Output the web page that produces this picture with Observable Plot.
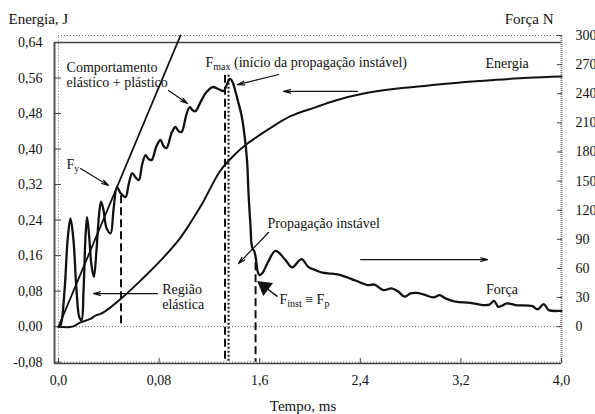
<!DOCTYPE html>
<html><head><meta charset="utf-8">
<script src="https://cdn.jsdelivr.net/npm/d3@7"></script>
<script src="https://cdn.jsdelivr.net/npm/@observablehq/plot@0.6"></script>
<style>body{margin:0;background:#fff}</style>
</head><body><div id="chart"></div>
<script>
// ---- data ----
const forceTime = [0,0.016,0.048,0.072,0.095,0.119,0.143,0.167,0.183,0.199,0.215,0.227,0.243,0.262,0.281,0.302,0.322,0.338,0.358,0.382,0.414,0.437,0.465,0.493,0.533,0.557,0.586,0.612,0.639,0.664,0.692,0.716,0.740,0.779,0.811,0.835,0.859,0.899,0.930,0.954,0.978,1.018,1.044,1.066,1.089,1.129,1.177,1.225,1.272,1.312,1.340,1.364,1.384,1.404,1.431,1.455,1.479,1.499,1.511,1.527,1.539,1.559,1.571,1.583,1.599,1.622,1.662,1.726,1.805,1.858,1.932,1.988,2.044,2.099,2.171,2.243,2.322,2.402,2.457,2.513,2.584,2.648,2.704,2.751,2.799,2.847,2.903,2.982,3.030,3.078,3.157,3.276,3.372,3.427,3.463,3.499,3.568,3.634,3.769,3.809,3.859,3.899,3.992,4.0];
const forceN = [0,1.5,37.6,89,111.5,89,37.6,8.8,6.7,37.6,94,112.9,94,63.4,51.3,78.9,115,128.7,120,101.5,96.1,120,143.8,137.6,133.5,146,158.2,154,151,166.5,176.8,172.7,171.6,186,192.3,186,184,199.5,205.7,201.5,200.5,219,226.3,223,222,231.4,241.8,246.9,244.8,242.8,250,255.2,252,243.8,230.4,218,197.4,171.6,137.6,102.6,82,76.8,68.6,57.2,53.1,55.2,65.5,78.1,68.6,61.0,69.6,61.3,58.2,55.7,54.6,53.1,49.5,45.4,42.8,43.3,37.6,39.4,35.9,30.9,34.2,34.8,33.2,30.1,32.5,29.1,25.8,24.5,22.2,22.7,26.5,20.4,23.9,22.2,21.1,17.7,23.2,17.0,16.3,16.3];
const energyTime = [0,0.111,0.175,0.254,0.294,0.334,0.414,0.507,0.652,0.811,0.970,1.129,1.288,1.392,1.487,1.662,1.845,2.043,2.203,2.417,2.680,2.942,3.213,3.475,3.738,4.0];
const energyJ = [0,0,0.0097,0.0174,0.025,0.0286,0.0435,0.0654,0.1037,0.1487,0.2006,0.2704,0.3516,0.385,0.409,0.443,0.474,0.494,0.5093,0.5244,0.5357,0.5431,0.5505,0.5559,0.5605,0.5634];
const elasticTime = [0, 0.97];
const elasticN = [0, 300];

const energyTicks = [-0.08,0,0.08,0.16,0.24,0.32,0.40,0.48,0.56,0.64];
const energyTickLabels = ["-0,08","0,00","0,08","0,16","0,24","0,32","0,40","0,48","0,56","0,64"];
const forceTicks = [0,30,60,90,120,150,180,210,240,270,300];
const timeTicks = [0,0.8,1.6,2.4,3.2,4.0];
const timeTickLabels = ["0,0","0,08","1,6","2,4","3,2","4,0"];

// vertical markers (energy units)
const dashTime = [0.497, 1.324, 1.567];
const dashTop = [0.295, 0.566, 0.144];
const dashBottom = [0, -0.08, -0.08];
const dotTime = [1.352];
const dotTop = [0.566];
const dotBottom = [-0.08];

// annotations
const noteText = ["Comportamento\nelástico + plástico","F_{y}","F_{max} (início da propagação instável)","Energia","Propagação instável","Região\nelástica","F_{inst} ≡ F_{p}","Força"];
const noteTime = [0.064,0.064,1.169,3.396,1.662,0.825,1.757,3.400];
const noteEnergy = [0.5668,0.367,0.595,0.593,0.234,0.0682,0.063,0.0834];

const arrowT1 = [0.875,0.175,1.750,2.378,1.670,0.787,2.402];
const arrowE1 = [0.532,0.356,0.568,0.530,0.212,0.0744,0.151];
const arrowT2 = [1.026,0.398,1.423,1.789,1.431,0.278,3.412];
const arrowE2 = [0.5025,0.318,0.545,0.530,0.142,0.0744,0.151];

const boldT1 = [1.742], boldE1 = [0.0676], boldT2 = [1.638], boldE2 = [0.090];

// ---- build ----
const k = 0.97/443.75; // J per N on the shared vertical scale
const xMin = -0.032, xMax = 4.0, yMin = -0.083, yMax = 0.64;
const fTop = forceTicks[forceTicks.length-1]*k;
const force = forceTime.map((t,i)=>({t, v: forceN[i]*k}));
const energy = energyTime.map((t,i)=>({t, v: energyJ[i]}));
const elastic = elasticTime.map((t,i)=>({t, v: elasticN[i]*k}));
const dashes = dashTime.map((t,i)=>({t, y1: dashTop[i], y2: dashBottom[i]}));
const dots = dotTime.map((t,i)=>({t, y1: dotTop[i], y2: dotBottom[i]}));
const notes = noteText.map((s,i)=>({s, t: noteTime[i], v: noteEnergy[i]}));
const arrows = arrowT1.map((t,i)=>({x1:t, y1:arrowE1[i], x2:arrowT2[i], y2:arrowE2[i]}));
const bold = boldT1.map((t,i)=>({x1:t, y1:boldE1[i], x2:boldT2[i], y2:boldE2[i]}));
const ink = "#111";
const serif = "Liberation Serif";

const chart = Plot.plot({
  width: 595, height: 414,
  marginLeft: 54, marginRight: 34, marginTop: 42, marginBottom: 51,
  x: {domain: [xMin, xMax], label: null},
  y: {domain: [yMin, yMax], label: null},
  style: {fontFamily: serif, fontSize: "14px", color: ink, background: "#fff"},
  marks: [
    Plot.ruleY([fTop, 0, -0.08], {x1: 0, x2: xMax, stroke: "#666", strokeWidth: 1, strokeDasharray: "1,2"}),
    Plot.ruleX([0], {y1: -0.08, y2: fTop, stroke: "#666", strokeWidth: 1, strokeDasharray: "1,2"}),
    Plot.ruleX([xMin], {y1: yMin, y2: yMax, stroke: "#555", strokeWidth: 2}),
    Plot.ruleY([yMax, yMin], {x1: xMin, x2: xMax, stroke: "#444", strokeWidth: 1.5}),
    Plot.ruleX([xMax], {y1: yMin, y2: fTop, stroke: "#777", strokeWidth: 2, strokeDasharray: "1,1"}),
    Plot.axisY(energyTicks, {anchor: "left", tickSize: -7, tickPadding: 19, label: null, stroke: "#444",
      tickFormat: d => energyTickLabels[energyTicks.indexOf(d)], fontSize: 14, fontFamily: serif}),
    Plot.axisY(forceTicks.map(f => f*k), {anchor: "right", tickSize: -5, tickPadding: 19, label: null, stroke: "#444",
      tickFormat: d => String(Math.round(d/k)), fontSize: 14, fontFamily: serif}),
    Plot.axisX(timeTicks, {anchor: "bottom", tickSize: -5, tickPadding: 17, label: null, stroke: "#444",
      tickFormat: d => timeTickLabels[timeTicks.indexOf(d)], fontSize: 14, fontFamily: serif}),
    Plot.ruleX(dashes, {x: "t", y1: "y1", y2: "y2", stroke: ink, strokeWidth: 2, strokeDasharray: "8,4"}),
    Plot.ruleX(dots, {x: "t", y1: "y1", y2: "y2", stroke: ink, strokeWidth: 2, strokeDasharray: "2,2"}),
    Plot.line(elastic, {x: "t", y: "v", stroke: ink, strokeWidth: 1.8}),
    Plot.line(energy, {x: "t", y: "v", stroke: ink, strokeWidth: 2, curve: "catmull-rom"}),
    Plot.line(force, {x: "t", y: "v", stroke: ink, strokeWidth: 2.3, curve: "catmull-rom"}),
    Plot.arrow(arrows, {x1: "x1", y1: "y1", x2: "x2", y2: "y2", bend: 0, stroke: ink, strokeWidth: 1.2, headLength: 9, headAngle: 30}),
    Plot.link(bold, {x1: "x1", y1: "y1", x2: "x2", y2: "y2", stroke: ink, strokeWidth: 1.4}),
    Plot.dot(bold, {x: "x2", y: "y2", symbol: "triangle", r: 5, fill: ink, stroke: ink, rotate: -53}),
    Plot.text(notes, {x: "t", y: "v", text: "s", textAnchor: "start", lineAnchor: "middle", lineHeight: 1.08, fontSize: 14, fontFamily: serif, fill: ink}),
    Plot.text(["Energia, J"], {frameAnchor: "top-left", dx: -46, dy: -23, textAnchor: "start", lineAnchor: "middle", fontSize: 15, fontFamily: serif, fill: ink}),
    Plot.text(["Força N"], {frameAnchor: "top-right", dx: -8, dy: -23, textAnchor: "end", lineAnchor: "middle", fontSize: 15, fontFamily: serif, fill: ink}),
    Plot.text(["Tempo, ms"], {frameAnchor: "bottom", dx: -5, dy: 43, textAnchor: "middle", lineAnchor: "middle", fontSize: 15, fontFamily: serif, fill: ink})
  ]
});

// subscripts: F_{max} etc.
chart.querySelectorAll("text").forEach(el => {
  if (el.querySelector("tspan")) return;
  const s = el.textContent;
  if (!s.includes("_{")) return;
  el.textContent = "";
  let shifted = false;
  s.split(/(_\{[^}]*\})/).forEach(p => {
    if (!p) return;
    const ts = document.createElementNS("http://www.w3.org/2000/svg", "tspan");
    if (p.startsWith("_{")) {
      ts.textContent = p.slice(2, -1);
      ts.setAttribute("font-size", "10");
      ts.setAttribute("dy", "3");
      shifted = true;
    } else {
      ts.textContent = p;
      if (shifted) { ts.setAttribute("dy", "-3"); shifted = false; }
    }
    el.appendChild(ts);
  });
});
document.getElementById("chart").appendChild(chart);
</script>
</body></html>
